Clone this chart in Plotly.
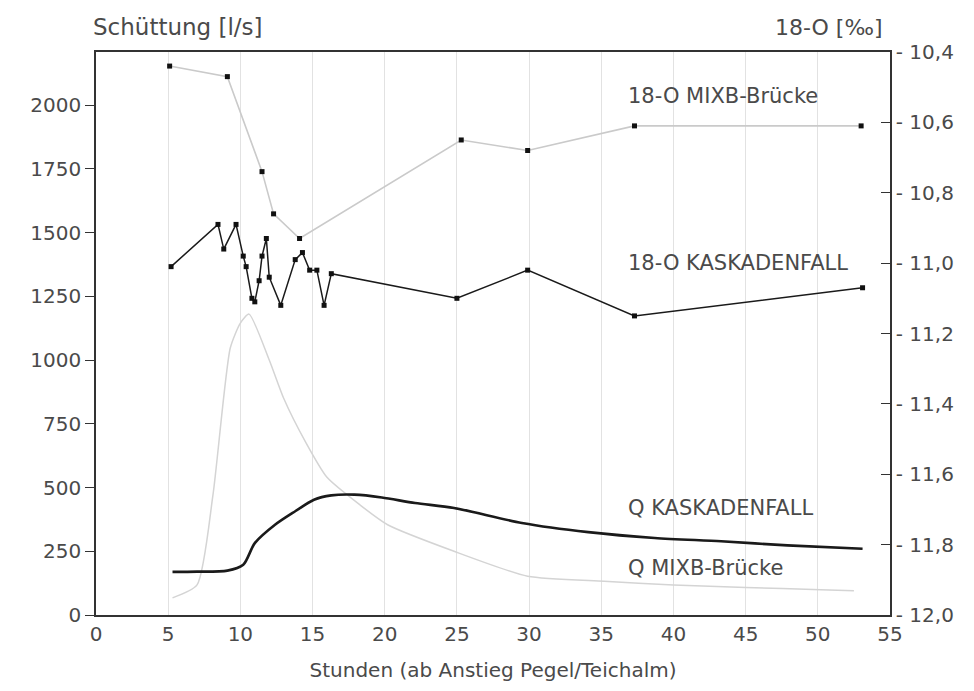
import plotly.graph_objects as go

# ---- data ----
# 18-O MIXB-Brücke  (right axis, ‰)
o18_mixb_h = [5.1, 9.1, 11.5, 12.3, 14.1, 25.3, 29.9, 37.3, 53.0]
o18_mixb_v = [-10.44, -10.47, -10.74, -10.86, -10.93, -10.65, -10.68, -10.61, -10.61]

# 18-O KASKADENFALL (right axis, ‰)
o18_kask_h = [5.2, 8.45, 8.85, 9.7, 10.2, 10.4, 10.8, 11.0, 11.3, 11.5, 11.8, 12.0,
              12.8, 13.8, 14.3, 14.8, 15.3, 15.8, 16.3, 25.0, 29.9, 37.3, 53.1]
o18_kask_v = [-11.01, -10.89, -10.96, -10.89, -10.98, -11.01, -11.10, -11.11, -11.05,
              -10.98, -10.93, -11.04, -11.12, -10.99, -10.97, -11.02, -11.02, -11.12,
              -11.03, -11.10, -11.02, -11.15, -11.07]

# Q KASKADENFALL (left axis, l/s)
q_kask_h = [5.3, 7.0, 9.1, 10.2, 11.0, 12.4, 13.8, 15.1, 16.3, 17.9, 19.8, 22.1,
            24.8, 29.5, 34.1, 38.7, 43.3, 47.9, 53.1]
q_kask_v = [169, 170, 174, 197, 282, 354, 407, 452, 469, 472, 461, 439,
            420, 361, 325, 302, 289, 273, 260]

# Q MIXB-Brücke (left axis, l/s)
q_mixb_h = [5.3, 7.0, 8.1, 9.3, 10.0, 10.6, 12.0, 13.0, 14.5, 16.0, 18.3, 20.2,
            24.8, 29.9, 35.2, 40.0, 45.0, 50.2, 52.5]
q_mixb_v = [67, 118, 470, 1047, 1145, 1180, 1000, 850, 680, 540, 431, 354,
            250, 152, 132, 118, 108, 99, 95]

x_ticks = [0, 5, 10, 15, 20, 25, 30, 35, 40, 45, 50, 55]
q_ticks = [0, 250, 500, 750, 1000, 1250, 1500, 1750, 2000]
o_ticks = [-12.0, -11.8, -11.6, -11.4, -11.2, -11.0, -10.8, -10.6, -10.4]
o_ticktext = ["- 12,0", "- 11,8", "- 11,6", "- 11,4", "- 11,2", "- 11,0", "- 10,8", "- 10,6", "- 10,4"]

FONT = "DejaVu Sans"
TXT = "#4a4a4a"
GREY = "#cacaca"

fig = go.Figure()

fig.add_trace(go.Scatter(x=q_mixb_h, y=q_mixb_v, mode="lines",
                         line=dict(color="#d4d4d4", width=1.5, shape="spline", smoothing=0.6),
                         yaxis="y", hoverinfo="skip"))
fig.add_trace(go.Scatter(x=q_kask_h, y=q_kask_v, mode="lines",
                         line=dict(color="#1a1a1a", width=2.6, shape="spline", smoothing=0.8),
                         yaxis="y"))
fig.add_trace(go.Scatter(x=o18_mixb_h, y=o18_mixb_v, mode="lines+markers",
                         line=dict(color=GREY, width=1.6),
                         marker=dict(symbol="square", size=5, color="#111111"),
                         yaxis="y2"))
fig.add_trace(go.Scatter(x=o18_kask_h, y=o18_kask_v, mode="lines+markers",
                         line=dict(color="#1a1a1a", width=1.5),
                         marker=dict(symbol="square", size=5, color="#111111"),
                         yaxis="y2"))

LBL = dict(family=FONT, size=21, color=TXT)
fig.add_annotation(text="18-O MIXB-Brücke", x=36.7, y=-10.524, xref="x", yref="y2",
                   xanchor="left", yanchor="middle", showarrow=False, font=LBL)
fig.add_annotation(text="18-O KASKADENFALL", x=36.7, y=-11.0, xref="x", yref="y2",
                   xanchor="left", yanchor="middle", showarrow=False, font=LBL)
fig.add_annotation(text="Q KASKADENFALL", x=36.7, y=418, xref="x", yref="y",
                   xanchor="left", yanchor="middle", showarrow=False, font=LBL)
fig.add_annotation(text="Q MIXB-Brücke", x=36.7, y=185, xref="x", yref="y",
                   xanchor="left", yanchor="middle", showarrow=False, font=LBL)
fig.add_annotation(text="Schüttung [l/s]", x=0, y=1, xref="paper", yref="paper",
                   xanchor="left", yanchor="bottom", showarrow=False, xshift=-5, yshift=10,
                   font=dict(family=FONT, size=23, color=TXT))
fig.add_annotation(text="18-O [‰]", x=1, y=1, xref="paper", yref="paper",
                   xanchor="right", yanchor="bottom", showarrow=False, xshift=-5, yshift=10,
                   font=dict(family=FONT, size=22, color=TXT))

fig.update_layout(
    width=974, height=691,
    margin=dict(l=88, r=92, t=44, b=84),
    paper_bgcolor="white", plot_bgcolor="white",
    showlegend=False,
    font=dict(family=FONT, size=18, color=TXT),
    xaxis=dict(range=[0, 55], tickvals=x_ticks, ticks="", showgrid=True,
               gridcolor="#e2e2e2", gridwidth=1.2, zeroline=False, automargin=False,
               showline=True, linecolor="#333333", linewidth=1.6, mirror=True,
               tickfont=dict(family=FONT, size=20, color=TXT),
               title=dict(text="Stunden (ab Anstieg Pegel/Teichalm)", standoff=18,
                          font=dict(family=FONT, size=20, color=TXT))),
    yaxis=dict(range=[0, 2208], tickvals=q_ticks, ticks="outside", ticklen=9,
               tickcolor="#333333", showgrid=False, zeroline=False, automargin=False,
               showline=True, linecolor="#333333", linewidth=1.6,
               tickfont=dict(family=FONT, size=20, color=TXT)),
    yaxis2=dict(range=[-12.0, -10.4], tickvals=o_ticks, ticktext=o_ticktext,
                overlaying="y", side="right", ticks="inside", ticklen=9,
                tickcolor="#333333", showgrid=False, zeroline=False, automargin=False,
                showline=True, linecolor="#333333", linewidth=1.6,
                tickfont=dict(family=FONT, size=20, color=TXT)),
)

fig.write_html("out.html")
